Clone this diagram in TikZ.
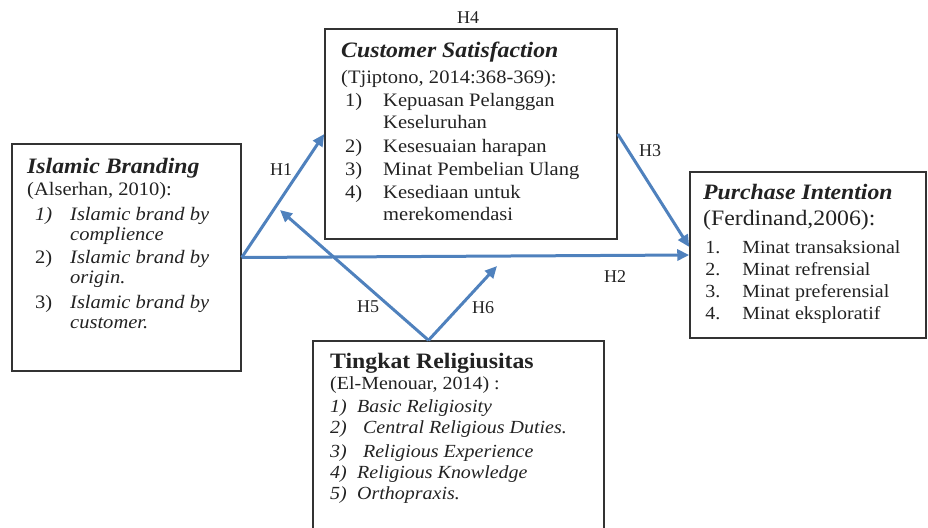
\documentclass[tikz,border=0pt]{standalone}
\usepackage{fontspec}
\setmainfont{Liberation Serif}
\usetikzlibrary{arrows.meta}
\definecolor{pathblue}{RGB}{79,129,189}
\definecolor{boxline}{HTML}{333333}
\definecolor{txt}{HTML}{222222}
\newcommand{\boxtitle}[1]{{\fontsize{22}{26}\selectfont\bfseries\itshape #1}}
\newcommand{\wide}[1]{\multicolumn{2}{@{}l@{}}{#1}}
\newcommand{\stretchx}[1]{\scalebox{1.08}[1]{#1}}
\tikzset{
  box/.style={draw=boxline, line width=1.5pt, inner sep=0pt},
  txtblock/.style={anchor=base west, inner sep=0pt, text=txt},
  hyp/.style={-{Triangle[length=12pt,width=11pt]}, line width=3pt, draw=pathblue, fill=pathblue},
  hlabel/.style={font=\fontsize{18}{20}\selectfont, text=txt}
}
\begin{document}
\begin{tikzpicture}[x=1pt, y=-1pt]
\useasboundingbox (0,0) rectangle (928,527);
% the four boxes
\node[box, minimum width=229pt, minimum height=227pt] (ib) at (126.5,257.5) {};
\node[box, minimum width=292pt, minimum height=210pt] (cs) at (471,134) {};
\node[box, minimum width=236pt, minimum height=166pt] (pi) at (808,255) {};
\node[box, minimum width=291pt, minimum height=204pt] (tr) at (458.5,443) {};
% box texts
\node[txtblock, font=\fontsize{19}{20}\selectfont] (ibtext) at (27,173) {\stretchx{%
\begin{tabular}[t]{@{\hspace{7.4pt}}p{32.4pt}@{}l@{}}
\wide{\boxtitle{Islamic Branding}}\\[2pt]
\wide{(Alserhan, 2010):}\\[5pt]
\textit{1)} & \textit{Islamic brand by}\\
 & \textit{complience}\\[3pt]
2) & \textit{Islamic brand by}\\
 & \textit{origin.}\\[5pt]
3) & \textit{Islamic brand by}\\
 & \textit{customer.}
\end{tabular}}};
\node[txtblock, font=\fontsize{19}{22}\selectfont] (cstext) at (341,57) {\stretchx{%
\begin{tabular}[t]{@{\hspace{3.7pt}}p{35.2pt}@{}l@{}}
\wide{\boxtitle{Customer Satisfaction}}\\[4pt]
\wide{(Tjiptono, 2014:368-369):}\\[1pt]
1) & Kepuasan Pelanggan\\
 & Keseluruhan\\[2pt]
2) & Kesesuaian harapan\\[1pt]
3) & Minat Pembelian Ulang\\[1pt]
4) & Kesediaan untuk\\
 & merekomendasi
\end{tabular}}};
\node[txtblock, font=\fontsize{18.5}{22}\selectfont] (pitext) at (703,199) {\stretchx{%
\begin{tabular}[t]{@{\hspace{1.9pt}}p{34.3pt}@{}l@{}}
\wide{\boxtitle{Purchase Intention}}\\[4pt]
\wide{\fontsize{22}{26}\selectfont(Ferdinand,2006):}\\[6pt]
1. & Minat transaksional\\
2. & Minat refrensial\\
3. & Minat preferensial\\
4. & Minat eksploratif
\end{tabular}}};
\node[txtblock, font=\fontsize{18.5}{21}\selectfont] (trtext) at (330,368) {\stretchx{%
\begin{tabular}[t]{@{}p{25pt}@{}l@{}}
\wide{\fontsize{22}{26}\selectfont\bfseries Tingkat Religiusitas}\\
\wide{(El-Menouar, 2014) :}\\[2pt]
\textit{1)} & \textit{Basic Religiosity}\\
\textit{2)} & \textit{\hspace{5.5pt}Central Religious Duties.}\\[3pt]
\textit{3)} & \textit{\hspace{5.5pt}Religious Experience}\\
\textit{4)} & \textit{Religious Knowledge}\\
\textit{5)} & \textit{Orthopraxis.}
\end{tabular}}};
% hypothesis paths
\coordinate (trfoot) at ([xshift=-30pt]tr.north);
\coordinate (h5end) at (280,210);
\coordinate (h6end) at (497,266);
\draw[hyp] (ib.east) -- (cs.west);
\draw[hyp] (ib.east) -- (pi.west);
\draw[hyp] (cs.east) -- ([yshift=8pt]pi.west);
\draw[hyp] (trfoot) -- (h5end);
\draw[hyp] (trfoot) -- (h6end);
% labels
\node[hlabel] (h1) at (281,170) {H1};
\node[hlabel] (h2) at (615,277) {H2};
\node[hlabel] (h3) at (650,151) {H3};
\node[hlabel] (h4) at (468,18) {H4};
\node[hlabel] (h5) at (368,307) {H5};
\node[hlabel] (h6) at (483,308) {H6};
\end{tikzpicture}
\end{document}
